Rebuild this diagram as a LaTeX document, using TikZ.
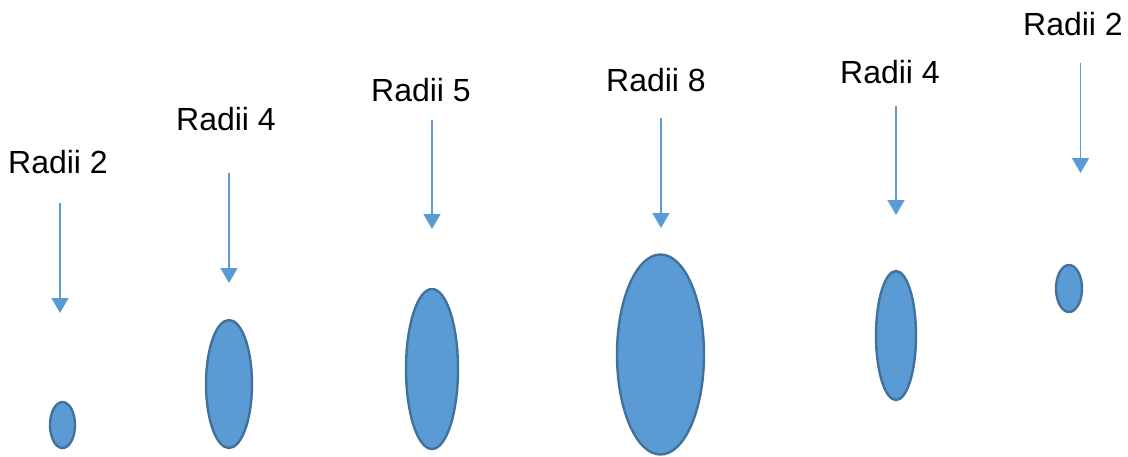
\documentclass[tikz,border=0pt]{standalone}
\usepackage{fontspec}
\setmainfont{Liberation Sans}
\usetikzlibrary{arrows.meta}
\definecolor{cfill}{HTML}{5B9BD5}
\definecolor{cedge}{HTML}{41719C}
\begin{document}
\begin{tikzpicture}[x=1pt,y=-1pt,
  blob/.style={draw=cedge,fill=cfill,line width=2.4pt},
  lbl/.style={anchor=base,inner sep=0pt,font=\fontsize{32}{38}\selectfont},
  pointer/.style={draw=cfill,line width=1.5pt,-{Triangle[length=15pt,width=17pt]}}]
\useasboundingbox (0,0) rectangle (1128,456);
% ellipses
\path[blob] (62.5,425) ellipse [x radius=12.5,y radius=23];
\path[blob] (229,384) ellipse [x radius=23,y radius=64];
\path[blob] (432,369) ellipse [x radius=26,y radius=80];
\path[blob] (660.5,354.5) ellipse [x radius=43.5,y radius=100];
\path[blob] (896,335.5) ellipse [x radius=20,y radius=64.5];
\path[blob] (1069,288.5) ellipse [x radius=13,y radius=23.5];
% labels
\node[lbl] (l1) at (58,173) {Radii 2};
\node[lbl] (l2) at (226,130) {Radii 4};
\node[lbl] (l3) at (421,101) {Radii 5};
\node[lbl] (l4) at (656,91) {Radii 8};
\node[lbl] (l5) at (890,83) {Radii 4};
\node[lbl] (l6) at (1073,35) {Radii 2};
% arrows
\coordinate (a1) at (60,203); \coordinate (b1) at (60,313);
\coordinate (a2) at (229,173); \coordinate (b2) at (229,283);
\coordinate (a3) at (432,120); \coordinate (b3) at (432,229);
\coordinate (a4) at (661,118); \coordinate (b4) at (661,228);
\coordinate (a5) at (896,106); \coordinate (b5) at (896,215);
\coordinate (a6) at (1080.5,63); \coordinate (b6) at (1080.5,173);
\foreach \i in {1,...,6} \draw[pointer] (a\i) -- (b\i);
\end{tikzpicture}
\end{document}
